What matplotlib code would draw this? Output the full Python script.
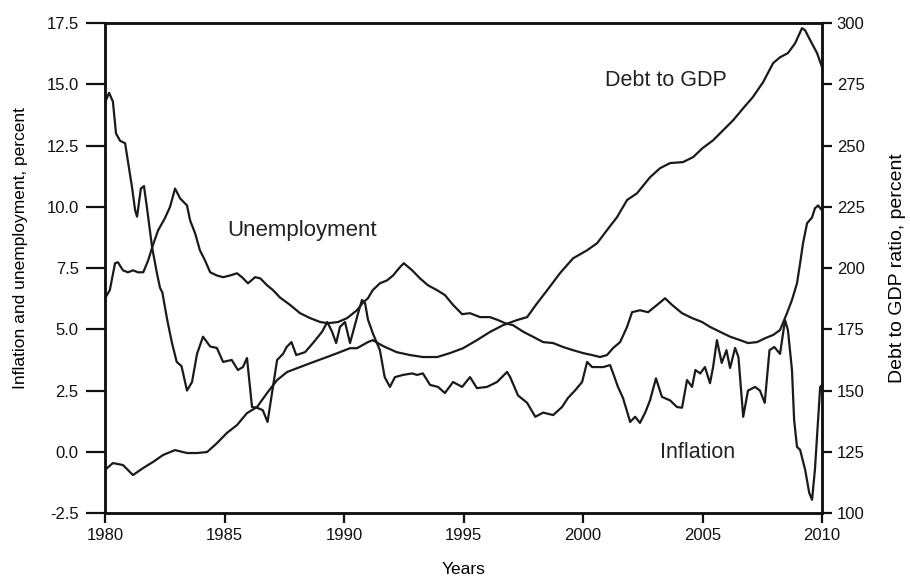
import matplotlib
matplotlib.use("Agg")
import matplotlib.pyplot as plt

plt.rcParams['font.family'] = ['Liberation Sans', 'DejaVu Sans']
plt.rcParams['axes.unicode_minus'] = False

# Inflation (percent, left axis)
infl_years = [1980.0, 1980.17, 1980.33, 1980.46, 1980.63, 1980.84, 1981.13, 1981.26, 1981.34, 1981.5,
              1981.63, 1981.75, 1981.97, 1982.17, 1982.3, 1982.4, 1982.6, 1982.8, 1983.0, 1983.2,
              1983.43, 1983.64, 1983.85, 1984.1, 1984.4, 1984.68, 1984.94, 1985.3, 1985.56, 1985.77,
              1985.94, 1986.15, 1986.36, 1986.6, 1986.8, 1987.0, 1987.2, 1987.45, 1987.6, 1987.8,
              1988.0, 1988.37, 1988.7, 1989.08, 1989.3, 1989.5, 1989.67, 1989.83, 1990.04, 1990.25,
              1990.42, 1990.6, 1990.75, 1990.88, 1991.0, 1991.2, 1991.5, 1991.7, 1991.92, 1992.13,
              1992.47, 1992.85, 1993.05, 1993.3, 1993.6, 1993.93, 1994.22, 1994.56, 1994.94, 1995.27,
              1995.56, 1995.98, 1996.4, 1996.82, 1996.95, 1997.28, 1997.66, 1998.0, 1998.33, 1998.75,
              1999.12, 1999.37, 1999.66, 1999.96, 2000.17, 2000.38, 2000.59, 2000.84, 2001.13, 2001.26,
              2001.46, 2001.67, 2001.97, 2002.18, 2002.38, 2002.6, 2002.8, 2003.05, 2003.3, 2003.64,
              2003.93, 2004.14, 2004.35, 2004.56, 2004.7, 2004.9, 2005.1, 2005.31, 2005.44, 2005.6,
              2005.8, 2006.0, 2006.15, 2006.36, 2006.5, 2006.7, 2006.9, 2007.2, 2007.4, 2007.6,
              2007.8, 2008.0, 2008.24, 2008.45, 2008.57, 2008.74, 2008.83, 2008.95, 2009.08, 2009.29,
              2009.46, 2009.58, 2009.7, 2009.83, 2009.92, 2010.0]
infl_values = [14.26, 14.66, 14.3, 13.0, 12.7, 12.6, 10.8, 9.86, 9.6, 10.75,
               10.85, 10.0, 8.35, 7.3, 6.7, 6.5, 5.4, 4.45, 3.67, 3.5,
               2.5, 2.85, 4.0, 4.7, 4.3, 4.24, 3.67, 3.75, 3.34, 3.46,
               3.83, 1.83, 1.8, 1.7, 1.22, 2.5, 3.75, 4.0, 4.28, 4.48,
               3.95, 4.07, 4.44, 4.9, 5.3, 4.9, 4.44, 5.1, 5.3, 4.44,
               5.05, 5.7, 6.2, 6.07, 5.4, 4.85, 4.15, 3.05, 2.65, 3.05,
               3.14, 3.2, 3.14, 3.2, 2.73, 2.65, 2.4, 2.85, 2.65, 3.05,
               2.6, 2.65, 2.85, 3.26, 3.05, 2.3, 2.0, 1.43, 1.6, 1.5,
               1.83, 2.2, 2.5, 2.85, 3.67, 3.46, 3.46, 3.46, 3.54, 3.2,
               2.65, 2.2, 1.22, 1.43, 1.18, 1.6, 2.1, 3.0, 2.24, 2.1,
               1.83, 1.8, 2.93, 2.65, 3.34, 3.2, 3.46, 2.8, 3.46, 4.56,
               3.63, 4.15, 3.42, 4.24, 3.87, 1.43, 2.5, 2.65, 2.5, 2.0,
               4.15, 4.28, 4.0, 5.38, 4.97, 3.34, 1.3, 0.2, 0.08, -0.73,
               -1.67, -1.96, -0.73, 1.3, 2.65, 2.73]

# Unemployment (percent, left axis)
unemp_years = [1980.0, 1980.2, 1980.42, 1980.54, 1980.75, 1980.96, 1981.17, 1981.38, 1981.6, 1981.8,
               1982.0, 1982.22, 1982.5, 1982.72, 1982.93, 1983.14, 1983.43, 1983.56, 1983.77, 1983.97,
               1984.18, 1984.4, 1984.68, 1984.94, 1985.23, 1985.52, 1985.73, 1985.98, 1986.28, 1986.5,
               1986.78, 1987.03, 1987.32, 1987.74, 1988.16, 1988.58, 1989.0, 1989.33, 1989.75, 1990.13,
               1990.54, 1990.8, 1991.0, 1991.2, 1991.5, 1991.8, 1992.05, 1992.34, 1992.5, 1992.85,
               1993.18, 1993.51, 1993.89, 1994.22, 1994.56, 1994.94, 1995.27, 1995.69, 1996.1, 1996.44,
               1996.74, 1997.07, 1997.5, 1997.9, 1998.33, 1998.75, 1999.16, 1999.58, 2000.0, 2000.38,
               2000.71, 2001.0, 2001.26, 2001.55, 2001.84, 2002.05, 2002.38, 2002.72, 2003.1, 2003.43,
               2003.72, 2004.14, 2004.56, 2004.98, 2005.31, 2005.73, 2006.15, 2006.57, 2006.9, 2007.28,
               2007.62, 2007.95, 2008.24, 2008.53, 2008.74, 2008.95, 2009.08, 2009.2, 2009.37, 2009.58,
               2009.7, 2009.83, 2010.0]
unemp_values = [6.27, 6.6, 7.7, 7.74, 7.41, 7.33, 7.41, 7.33, 7.33, 7.8,
                8.43, 9.04, 9.53, 10.0, 10.75, 10.35, 10.06, 9.45, 8.92, 8.23,
                7.82, 7.33, 7.2, 7.13, 7.2, 7.29, 7.13, 6.88, 7.13, 7.08,
                6.8, 6.6, 6.3, 6.0, 5.66, 5.46, 5.3, 5.25, 5.3, 5.46,
                5.78, 6.1, 6.27, 6.6, 6.88, 7.0, 7.2, 7.54, 7.7, 7.41,
                7.08, 6.8, 6.6, 6.4, 6.0, 5.62, 5.66, 5.5, 5.5, 5.38,
                5.25, 5.17, 4.9, 4.7, 4.48, 4.44, 4.28, 4.15, 4.03, 3.95,
                3.87, 3.95, 4.24, 4.48, 5.1, 5.7, 5.78, 5.7, 6.0, 6.27,
                6.0, 5.66, 5.46, 5.3, 5.1, 4.9, 4.7, 4.56, 4.44, 4.48,
                4.64, 4.77, 4.97, 5.66, 6.2, 6.88, 7.7, 8.5, 9.33, 9.57,
                9.94, 10.06, 9.86]

# Debt to GDP ratio (percent, right axis)
debt_years = [1980.0, 1980.33, 1980.75, 1981.17, 1981.6, 1982.0, 1982.43, 1982.93, 1983.43, 1983.85,
              1984.27, 1984.69, 1985.1, 1985.52, 1985.94, 1986.36, 1986.78, 1987.2, 1987.62, 1988.16,
              1988.7, 1989.29, 1989.83, 1990.25, 1990.54, 1991.0, 1991.2, 1991.63, 1992.2, 1992.76,
              1993.3, 1993.9, 1994.43, 1994.98, 1995.56, 1996.1, 1996.65, 1997.24, 1997.66, 1998.08,
              1998.5, 1999.04, 1999.58, 2000.17, 2000.59, 2001.0, 2001.42, 2001.84, 2002.26, 2002.8,
              2003.22, 2003.64, 2004.18, 2004.6, 2005.0, 2005.44, 2005.86, 2006.28, 2006.7, 2007.1,
              2007.53, 2007.95, 2008.24, 2008.57, 2008.87, 2009.16, 2009.29, 2009.5, 2009.79, 2010.0]
debt_values = [117.6, 120.4, 119.6, 115.5, 118.4, 120.8, 123.7, 125.7, 124.5, 124.5,
               124.9, 128.6, 132.7, 135.9, 140.8, 143.3, 149.0, 154.3, 157.6, 159.6,
               161.6, 163.7, 165.7, 167.3, 167.3, 169.8, 170.6, 168.2, 165.7, 164.5,
               163.7, 163.7, 165.3, 167.3, 170.6, 173.9, 176.7, 178.8, 180.0, 185.7,
               191.0, 198.0, 204.0, 207.3, 210.2, 215.5, 220.8, 227.8, 230.6, 237.1,
               240.8, 242.9, 243.3, 245.3, 249.0, 252.2, 256.3, 260.4, 265.3, 269.8,
               275.9, 283.7, 286.1, 287.8, 291.8, 298.0, 297.1, 293.1, 287.8, 282.0]

x_ticks = [1980, 1985, 1990, 1995, 2000, 2005, 2010]
left_ticks = [-2.5, 0.0, 2.5, 5.0, 7.5, 10.0, 12.5, 15.0, 17.5]
right_ticks = [100, 125, 150, 175, 200, 225, 250, 275, 300]

fig = plt.figure(figsize=(9.10, 5.81), dpi=100)
ax = fig.add_axes([0.1154, 0.117, 0.788, 0.843])
ax2 = ax.twinx()

line_kw = dict(color='#1a1a1a', lw=1.6)
ax.plot(infl_years, infl_values, **line_kw)
ax.plot(unemp_years, unemp_values, **line_kw)
ax2.plot(debt_years, debt_values, **line_kw)

ax.set_xlim(1980, 2010)
ax.set_ylim(-2.5, 17.5)
ax2.set_ylim(100, 300)
ax.set_xticks(x_ticks)
ax.set_yticks(left_ticks)
ax.set_yticklabels([f"{t:.1f}" for t in left_ticks])
ax2.set_yticks(right_ticks)
ax2.set_yticklabels([str(t) for t in right_ticks])

for a in (ax, ax2):
    for s in a.spines.values():
        s.set_linewidth(1.8)
        s.set_color('#111111')
    a.tick_params(direction='out', length=7, width=1.6, labelsize=12, colors='#111111')
ax.tick_params(axis='y', length=14, pad=5)

ax.set_xlabel('Years', fontsize=12.5, labelpad=14)
ax.set_ylabel('Inflation and unemployment, percent', fontsize=12.5)
ax.yaxis.set_label_coords(-0.108, 0.54)
ax2.set_ylabel('Debt to GDP ratio, percent', fontsize=14)
ax2.yaxis.set_label_coords(1.093, 0.50)

ax.text(1988.24, 9.04, 'Unemployment', fontsize=16, ha='center', va='center', color='#222222')
ax.text(2003.47, 15.15, 'Debt to GDP', fontsize=15.5, ha='center', va='center', color='#222222')
ax.text(2004.77, -0.04, 'Inflation', fontsize=15.5, ha='center', va='center', color='#222222')

fig.savefig('out.png', dpi=100)
